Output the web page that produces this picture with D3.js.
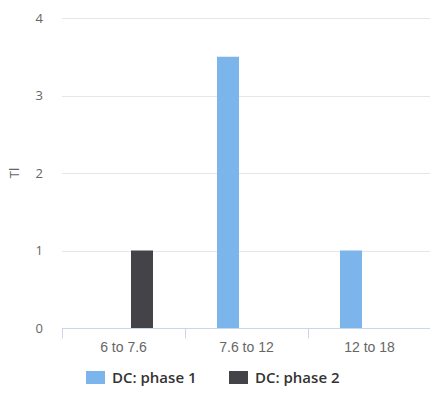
<!DOCTYPE html>
<html>
<head>
<meta charset="utf-8">
<script src="https://cdn.jsdelivr.net/npm/d3@7"></script>
<style>
  html, body { margin: 0; padding: 0; background: #fff; }
  svg { display: block; font-family: "Open Sans", "DejaVu Sans", sans-serif; }
</style>
</head>
<body>
<svg id="chart" width="430" height="403"></svg>
<script>
// Bins on the x axis
const categories = ["6 to 7.6", "7.6 to 12", "12 to 18"];
// Series names and their values per bin
const seriesNames = ["DC: phase 1", "DC: phase 2"];
const phase1 = [0, 3.5, 1];
const phase2 = [1, 0, 0];
const yTicks = [0, 1, 2, 3, 4];
const yTitle = "Tl";
const colors = ["#7cb5ec", "#434348"];

const seriesValues = [phase1, phase2];
const rows = categories.map((c, i) => ({
  cat: c,
  vals: seriesNames.map((s, j) => ({ series: s, value: seriesValues[j][i], idx: j }))
}));

const svg = d3.select("#chart");
const margin = { left: 62, right: -1, top: 18, bottom: 75 };
const W = +svg.attr("width"), H = +svg.attr("height");
const plotW = W - margin.left - margin.right;
const plotH = H - margin.top - margin.bottom;

const g = svg.append("g").attr("transform", `translate(${margin.left},${margin.top})`);

const x0 = d3.scaleBand().domain(categories).range([0, plotW]).padding(0);
// Inner scale: two bars of 22px with 15px gap, centered in each bin
const x1 = d3.scaleBand().domain(seriesNames)
  .range([0, x0.bandwidth()])
  .paddingInner(0.405)
  .paddingOuter(0.865);
const y = d3.scaleLinear().domain([0, 4]).range([plotH, 0]);

// Horizontal grid lines
g.append("g").selectAll("line").data(yTicks).join("line")
  .attr("x1", 0).attr("x2", plotW)
  .attr("y1", d => Math.round(y(d)) + 0.5).attr("y2", d => Math.round(y(d)) + 0.5)
  .attr("stroke", "#e6e6e6").attr("stroke-width", 1);

// Y tick labels
g.append("g").selectAll("text").data(yTicks).join("text")
  .attr("x", -19).attr("y", d => y(d)).attr("dy", "0.35em")
  .attr("text-anchor", "end")
  .attr("fill", "#666").attr("font-size", 13)
  .text(d => d);

// Y axis title
svg.append("text")
  .attr("transform", `translate(19,${margin.top + plotH / 2}) rotate(-90)`)
  .attr("text-anchor", "middle")
  .attr("fill", "#666").attr("font-size", 13)
  .text(yTitle);

// Bars
g.append("g").selectAll("g").data(rows).join("g")
  .attr("transform", d => `translate(${x0(d.cat)},0)`)
  .selectAll("rect").data(d => d.vals.filter(v => v.value > 0)).join("rect")
  .attr("x", d => x1(d.series))
  .attr("width", x1.bandwidth())
  .attr("y", d => y(d.value))
  .attr("height", d => y(0) - y(d.value))
  .attr("fill", d => colors[d.idx]);

// X axis
const xAxis = g.append("g").attr("transform", `translate(0,${Math.round(plotH) + 0.5})`)
  .call(d3.axisBottom(x0).tickSize(0).tickPadding(0));
xAxis.select(".domain").remove();
xAxis.append("line").attr("x1", 0).attr("x2", plotW).attr("stroke", "#ccd6eb");
xAxis.selectAll(".tick text")
  .attr("y", 23).attr("dy", "0").attr("fill", "#666").attr("font-size", 14)
  .style("font-family", "inherit");
// Category dividers
xAxis.append("g").selectAll("line").data(categories).join("line")
  .attr("x1", d => Math.round(x0(d)) + 0.5).attr("x2", d => Math.round(x0(d)) + 0.5)
  .attr("y1", 0).attr("y2", 10).attr("stroke", "#ccd6eb");

// Legend
const legend = svg.append("g").attr("transform", "translate(86,371)");
const items = legend.selectAll("g").data(seriesNames).join("g")
  .attr("transform", (d, i) => `translate(${i * 143},0)`);
items.append("rect").attr("width", 19).attr("height", 13).attr("fill", (d, i) => colors[i]);
items.append("text").attr("x", 26).attr("y", 12)
  .attr("fill", "#333").attr("font-size", 15).attr("font-weight", 600)
  .text(d => d);
</script>
</body>
</html>
